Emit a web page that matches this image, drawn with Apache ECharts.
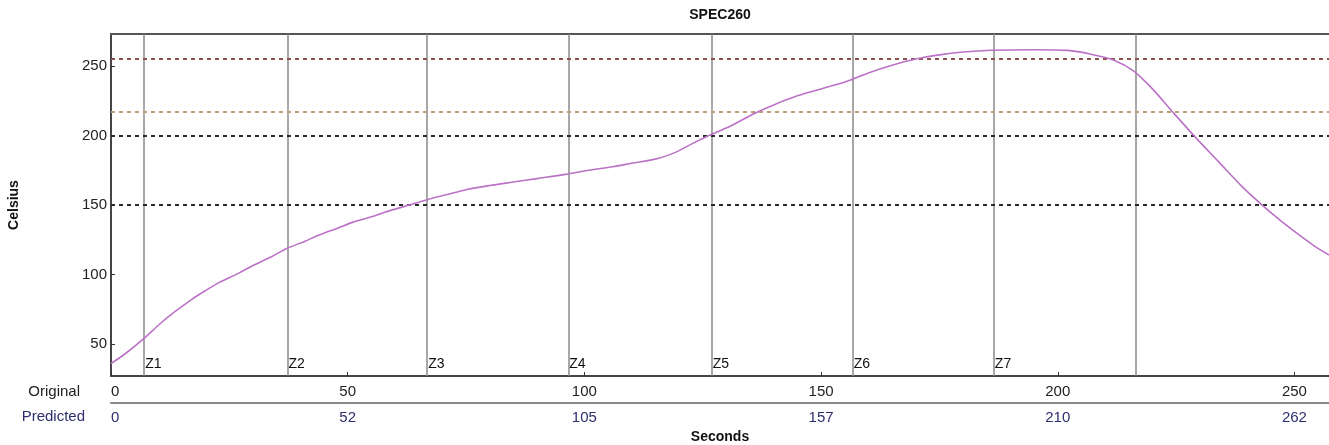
<!DOCTYPE html>
<html>
<head>
<meta charset="utf-8">
<script src="https://cdn.jsdelivr.net/npm/echarts@6/dist/echarts.min.js"></script>
<style>
html,body{margin:0;padding:0;background:#fff;}
#chart{width:1329px;height:445px;}
</style>
</head>
<body>
<div id="chart"></div>
<script>
// ---- data ----
const titleText = 'SPEC260';
const timeSec = [0, 3, 7, 10, 13, 17, 20, 23, 27, 30, 34, 37, 41, 44, 48, 51, 55, 58, 62, 67, 71, 75, 80, 85, 90, 96, 101, 106, 110, 115, 119, 123, 127, 131, 136, 140, 145, 150, 155, 160, 165, 170, 175, 180, 186, 195, 202, 207, 212, 216, 220, 224, 229, 234, 239, 243, 247, 251, 254, 257.3];
const tempC = [36, 43, 54, 63.5, 72, 82, 88.5, 94.5, 101, 106.5, 113, 118.5, 124, 128.5, 133.5, 137.5, 141.5, 145, 149, 154, 157.5, 161, 164, 166.5, 169, 172, 175, 177.5, 180, 183, 187.5, 194.5, 201, 207, 216, 222, 228.5, 233.5, 238.5, 245, 250.5, 255, 258, 260, 261.3, 261.7, 261.2, 258.5, 254, 246.5, 233.5, 218, 199, 181, 163, 150.5, 139, 128.5, 121, 114];
const zoneTimes = [7.0, 37.3, 66.8, 96.6, 126.9, 156.7, 186.5, 216.5];
const zoneLabels = ['Z1', 'Z2', 'Z3', 'Z4', 'Z5', 'Z6', 'Z7', ''];
const limitValues = [255, 217, 200, 150];
const limitColors = ['#8c5048', '#b8a070', '#2a2a2a', '#2a2a2a'];
const xTicks = [0, 50, 100, 150, 200, 250];
const predictedLabels = ['0', '52', '105', '157', '210', '262'];
const yTicks = [50, 100, 150, 200, 250];
const xMin = 0, xMax = 257.3, yMin = 27, yMax = 273;

// ---- chart ----
const FONT = "'Liberation Sans', Arial, sans-serif";
const chart = echarts.init(document.getElementById('chart'), null, {renderer: 'canvas'});

const curve = timeSec.map((t, i) => [t, tempC[i]]);
const zonePts = zoneTimes.map((t, i) => ({value: [t, yMin], name: zoneLabels[i]}));

const option = {
  animation: false,
  backgroundColor: '#ffffff',
  title: {
    text: titleText, left: 720, top: 8, padding: 0, textAlign: 'center',
    textStyle: {fontFamily: FONT, fontWeight: 'bold', fontSize: 14, color: '#111'}
  },
  grid: {left: 111, top: 34, right: 0, bottom: 69, containLabel: false, outerBoundsMode: 'none'},
  xAxis: [
    {
      type: 'value', position: 'bottom', min: xMin, max: xMax,
      axisLine: {show: true, onZero: false, lineStyle: {color: '#444', width: 2}},
      axisTick: {show: true, inside: true, length: 4, customValues: xTicks, lineStyle: {color: '#333'}},
      axisLabel: {customValues: xTicks, margin: 8, alignMinLabel: 'left', fontFamily: FONT, fontSize: 15, color: '#222'},
      splitLine: {show: false}
    },
    {
      type: 'value', position: 'bottom', offset: 27, min: xMin, max: xMax,
      name: 'Seconds', nameLocation: 'middle', nameGap: 26,
      nameTextStyle: {fontFamily: FONT, fontWeight: 'bold', fontSize: 14, color: '#111'},
      axisLine: {show: true, onZero: false, lineStyle: {color: '#888', width: 2}},
      axisTick: {show: false},
      axisLabel: {
        customValues: xTicks, margin: 7, alignMinLabel: 'left', fontFamily: FONT, fontSize: 15, color: '#2e2e6e',
        formatter: v => predictedLabels[xTicks.indexOf(v)]
      },
      splitLine: {show: false}
    },
    {
      type: 'value', position: 'top', min: xMin, max: xMax,
      axisLine: {show: true, onZero: false, lineStyle: {color: '#555', width: 2}},
      axisTick: {show: false}, axisLabel: {show: false}, splitLine: {show: false}
    }
  ],
  yAxis: {
    type: 'value', min: yMin, max: yMax,
    name: 'Celsius', nameLocation: 'middle', nameRotate: 90, nameGap: 90,
    nameTextStyle: {fontFamily: FONT, fontWeight: 'bold', fontSize: 14, color: '#111'},
    axisLine: {show: true, onZero: false, lineStyle: {color: '#444', width: 2}},
    axisTick: {show: true, inside: true, length: 4, customValues: yTicks, lineStyle: {color: '#333'}},
    axisLabel: {customValues: yTicks, margin: 4, fontFamily: FONT, fontSize: 15, color: '#222'},
    splitLine: {show: false}
  },
  graphic: [
    {type: 'text', right: 1329 - 80, top: 384, style: {text: 'Original', fontFamily: FONT, fontSize: 15, fill: '#222'}},
    {type: 'text', right: 1329 - 85, top: 409, style: {text: 'Predicted', fontFamily: FONT, fontSize: 15, fill: '#2e2e6e'}}
  ],
  series: [
    {
      type: 'scatter', data: zonePts, symbolSize: 0, silent: true, z: 2,
      itemStyle: {opacity: 1},
      label: {show: true, position: 'right', distance: 1, offset: [0, -12], formatter: p => p.name,
        fontFamily: FONT, fontSize: 14, color: '#111', opacity: 1},
      markLine: {
        silent: true, symbol: 'none', label: {show: false}, animation: false,
        data: [
          ...zoneTimes.map(t => ({xAxis: t, lineStyle: {color: '#8a8a8a', width: 1.5, type: 'solid'}})),
          ...limitValues.map((v, i) => ({yAxis: v, lineStyle: {color: limitColors[i], width: 2, type: [4, 4]}}))
        ]
      }
    },
    {
      type: 'line', data: curve, showSymbol: false, smooth: 0.3, z: 5,
      lineStyle: {color: '#bb72c6', width: 1.6}
    }
  ]
};
chart.setOption(option);
</script>
</body>
</html>
